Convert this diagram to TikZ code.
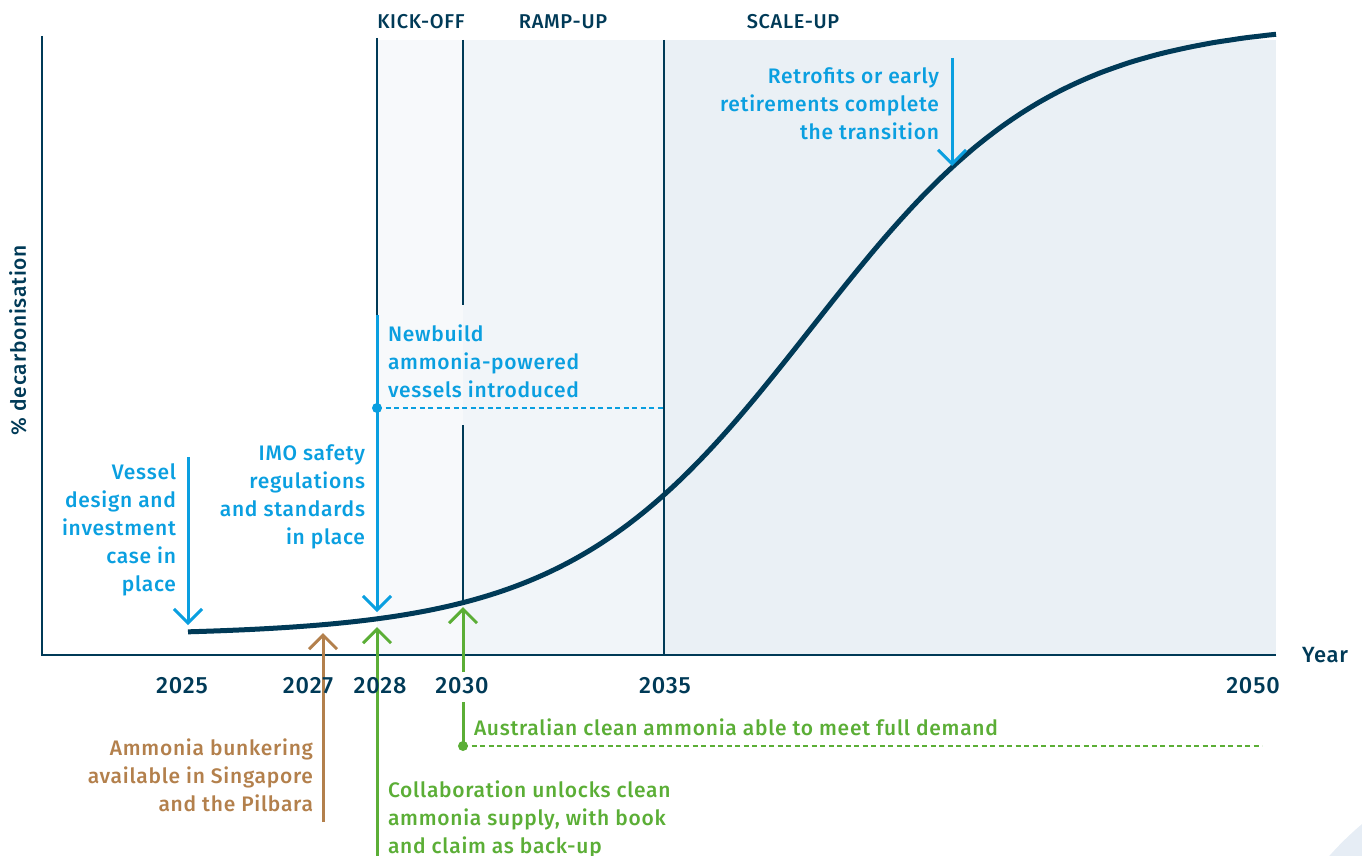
\documentclass[tikz,border=0pt]{standalone}
\usepackage{fontspec}
\setmainfont{Fira Sans}
\newfontfamily\medfont[LetterSpace=3.5]{Fira Sans Medium}
\usetikzlibrary{arrows.meta}
\definecolor{navy}{HTML}{003A57}
\definecolor{cblue}{HTML}{0A9FE0}
\definecolor{cgreen}{HTML}{5BAE36}
\definecolor{cbrown}{HTML}{B3804C}
\definecolor{shA}{HTML}{F7F9FB}
\definecolor{shB}{HTML}{F1F5F9}
\definecolor{shC}{HTML}{EAF0F5}
\definecolor{corner}{HTML}{E6EDF5}
\begin{document}
\begin{tikzpicture}[x=1pt,y=-1pt,
  every node/.style={inner sep=0pt,outer sep=0pt},
  ann/.style={font=\medfont\fontsize{21}{28}\selectfont},
  yr/.style={font=\medfont\fontsize{23.5}{28}\selectfont,text=navy,anchor=base},
  phase/.style={font=\medfont\fontsize{20}{24}\selectfont,text=navy},
  arr/.style={line width=3pt,-{Straight Barb[length=14pt,width=28pt]}},
  axis/.style={navy,line width=2pt},
  vline/.style={navy,line width=1.8pt},
  dsh/.style={line width=1.5pt,dash pattern=on 5pt off 3.5pt}]
\useasboundingbox (0,0) rectangle (1362,856);
\begin{scope}
\clip (0,0) rectangle (1362,856);
\fill[corner] (1560,1060) circle (308);
\end{scope}
% shaded phases
\fill[shA] (377,40) rectangle (463,655);
\fill[shB] (463,40) rectangle (664,655);
\fill[shC] (664,40) rectangle (1276,655);
% coordinates
\coordinate (ytop) at (42,36);
\coordinate (origin) at (42,655);
\coordinate (xend) at (1276,655);
\coordinate (k1) at (377,38);
\coordinate (k2) at (377,315);
\coordinate (kt) at (377,612);
\coordinate (kd) at (377,408);
\coordinate (kde) at (664,408);
\coordinate (r1) at (463,40);
\coordinate (r2) at (463,305);
\coordinate (r3) at (463,425);
\coordinate (r4) at (463,600);
\coordinate (s1) at (664,40);
\coordinate (s2) at (664,655);
\coordinate (v1) at (188,457);
\coordinate (v2) at (188,625);
\coordinate (t1) at (952,58);
\coordinate (t2) at (952,166);
\coordinate (b1) at (323,822);
\coordinate (b2) at (323,633);
\coordinate (g1) at (377,856);
\coordinate (g2) at (377,627);
\coordinate (h1) at (463,672);
\coordinate (h2) at (463,607);
\coordinate (a1) at (463,702);
\coordinate (a2) at (463,746);
\coordinate (a3) at (1262,746);
% axes
\draw[axis] (ytop) -- (origin) -- (xend);
% phase lines
\draw[vline] (k1) -- (k2);
\draw[vline] (r1) -- (r2);
\draw[vline] (r3) -- (r4);
\draw[vline] (s1) -- (s2);
% curve
\draw[navy,line width=5pt] plot[domain=188:1276,samples=120,smooth]
  (\x,{632-614*(1/(1+exp(-(\x-811)/121))-0.0055)});
% blue arrows
\draw[arr,cblue] (v1) -- (v2);
\draw[arr,cblue] (k2) -- (kt);
\draw[arr,cblue] (t1) -- (t2);
\draw[cblue,dsh] (kd) -- (kde);
\fill[cblue] (kd) circle (5);
% bottom arrows
\draw[arr,cbrown] (b1) -- (b2);
\draw[arr,cgreen] (g1) -- (g2);
\draw[arr,cgreen] (h1) -- (h2);
\draw[cgreen,line width=3pt] (a1) -- (a2);
\draw[cgreen,dsh] (a2) -- (a3);
\fill[cgreen] (a2) circle (5);
% phase labels
\node[phase] (kick) at (421,22) {KICK-OFF};
\node[phase] (ramp) at (563,22) {RAMP-UP};
\node[phase] (scale) at (793,22) {SCALE-UP};
% axis labels
\node[font=\medfont\fontsize{21}{24}\selectfont,text=navy,rotate=90] (ylab) at (18,340) {\% decarbonisation};
\node[font=\medfont\fontsize{22}{24}\selectfont,text=navy,anchor=base west] (year) at (1302,662) {Year};
% years
\node[yr] (y25) at (182,693) {2025};
\node[yr] (y27) at (308,693) {2027};
\node[yr] (y28) at (380,693) {2028};
\node[yr] (y30) at (462,693) {2030};
\node[yr] (y35) at (665,693) {2035};
\node[yr] (y50) at (1253,693) {2050};
% annotations
\node[ann,text=cblue,align=right,anchor=north east] (vessel) at (176,464) {Vessel\\design and\\investment\\case in\\place};
\node[ann,text=cblue,align=right,anchor=north east] (imo) at (365,445) {IMO safety\\regulations\\and standards\\in place};
\node[ann,text=cblue,align=left,anchor=north west] (newb) at (388,325) {Newbuild\\ammonia-powered\\vessels introduced};
\node[ann,text=cblue,align=right,anchor=north east] (retro) at (939,68) {Retrofits or early\\retirements complete\\the transition};
\node[ann,text=cbrown,align=right,anchor=north east] (bunk) at (313,739) {Ammonia bunkering\\available in Singapore\\and the Pilbara};
\node[ann,text=cgreen,align=left,anchor=north west] (collab) at (388,781) {Collaboration unlocks clean\\ammonia supply, with book\\and claim as back-up};
\node[ann,text=cgreen,anchor=north west] (aus) at (474,719) {Australian clean ammonia able to meet full demand};
\end{tikzpicture}
\end{document}
